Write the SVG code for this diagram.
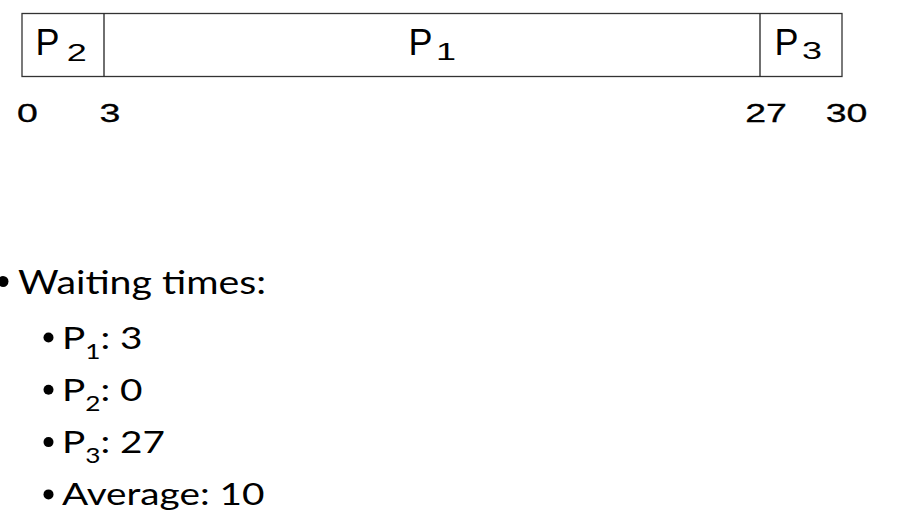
<svg xmlns="http://www.w3.org/2000/svg" width="904" height="530" viewBox="0 0 904 530">
<style>
.box{fill:#fff;stroke:#333;stroke-width:1.3}
.div{stroke:#222;stroke-width:1.3}
.pl{font-family:"Liberation Sans",Arial,sans-serif;font-size:36px;fill:#000}
.sb{font-family:"Liberation Sans",Arial,sans-serif;font-size:24px;fill:#000;text-anchor:middle}
.tk{font-family:"Liberation Sans",Arial,sans-serif;font-size:25px;fill:#000;text-anchor:middle;stroke:#000;stroke-width:0.3}
.b1{font-family:Lato,"Open Sans",sans-serif;font-size:33px;fill:#000}
.b2{font-family:Lato,"Open Sans",sans-serif;font-size:31px;fill:#000}
.s2{font-size:21px}
</style>
<rect width="904" height="530" fill="#fff"/>
<g id="gantt">
<rect class="box" x="22" y="13.5" width="820" height="63"/>
</g>
<g id="connectors">
<line class="div" x1="104" y1="13.5" x2="104" y2="76.5"/>
<line class="div" x1="760" y1="13.5" x2="760" y2="76.5"/>
</g>
<g id="p2">
<text class="pl" x="35.5" y="54.5">P</text>
<text class="sb" transform="translate(76.7,61) scale(1.5,1)">2</text>
</g>
<g id="p1">
<text class="pl" x="408.5" y="55">P</text>
<text class="sb" transform="translate(446,60) scale(1.5,1)">1</text>
</g>
<g id="p3">
<text class="pl" x="774.5" y="55">P</text>
<text class="sb" transform="translate(812,58.5) scale(1.5,1)">3</text>
</g>
<g id="ticks">
<text class="tk" transform="translate(27.5,121.5) scale(1.5,1)">0</text>
<text class="tk" transform="translate(110,121.5) scale(1.5,1)">3</text>
<text class="tk" transform="translate(766,121.5) scale(1.5,1)">27</text>
<text class="tk" transform="translate(846.5,121.5) scale(1.5,1)">30</text>
</g>
<g id="list">
<circle cx="3" cy="281.5" r="5.5"/>
<g transform="translate(18,294) scale(1.19,1)"><text class="b1" x="0" y="0">Waiting times:</text></g>
<circle cx="48.5" cy="337.5" r="5"/>
<g transform="translate(62,348.5) scale(1.25,1)"><text class="b2" x="0" y="0">P<tspan class="s2" dy="10">1</tspan><tspan dy="-10">: 3</tspan></text></g>
<circle cx="48.5" cy="389.8" r="5"/>
<g transform="translate(62,400.8) scale(1.25,1)"><text class="b2" x="0" y="0">P<tspan class="s2" dy="10">2</tspan><tspan dy="-10">: 0</tspan></text></g>
<circle cx="48.5" cy="442.1" r="5"/>
<g transform="translate(62,453.1) scale(1.25,1)"><text class="b2" x="0" y="0">P<tspan class="s2" dy="10">3</tspan><tspan dy="-10">: 27</tspan></text></g>
<circle cx="48.5" cy="494.4" r="5"/>
<g transform="translate(62,505.4) scale(1.25,1)"><text class="b2" x="0" y="0">Average: 10</text></g>
</g>
</svg>
